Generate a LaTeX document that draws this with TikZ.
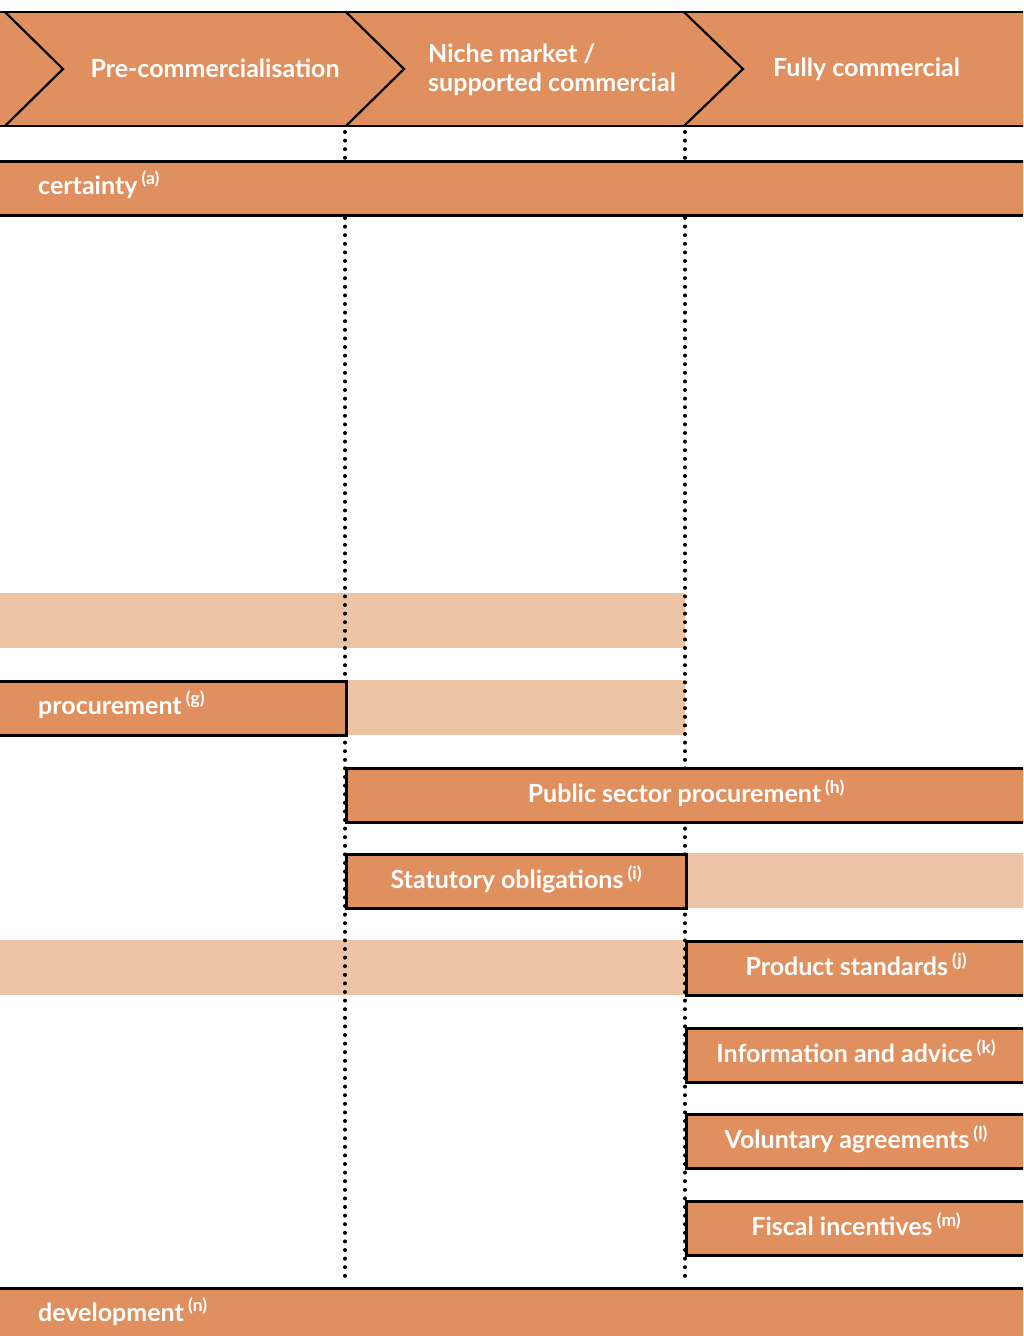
\documentclass[tikz,border=0pt]{standalone}
\usepackage{fontspec}
\setmainfont{Lato}
\usetikzlibrary{positioning}

\definecolor{barorange}{RGB}{224,143,94}
\definecolor{barpale}{RGB}{237,196,166}
\newcommand{\refmark}[1]{\,\textsuperscript{(#1)}}

\tikzset{
  darkbar/.style={fill=barorange, draw=black, line width=2.6pt, inner sep=0pt,
    minimum height=54pt, anchor=north west, text=white, text height=19pt, text depth=5pt,
    font=\bfseries\fontsize{25}{30}\selectfont},
  palebar/.style={fill=barpale, inner sep=0pt, minimum height=55pt, anchor=north west},
  bartext/.style={text=white, inner sep=0pt, font=\bfseries\fontsize{25}{30}\selectfont},
  headtext/.style={text=white, inner sep=0pt, font=\bfseries\fontsize{25}{29}\selectfont},
  chevron/.style={draw=black, line width=2.2pt, line join=miter},
  guide/.style={line width=4pt, line cap=round, dash pattern=on 0pt off 8.6pt},
}

\begin{document}
\begin{tikzpicture}[x=1pt,y=-1pt]
  \useasboundingbox (0,0) rectangle (1023,1336);
  \clip (0,0) rectangle (1023,1336);

  % stages along the top
  \fill[barorange] (-10,12) rectangle (1033,126);
  \draw[chevron] (-10,12) -- (1033,12);
  \draw[chevron] (-10,126) -- (1033,126);
  \draw[chevron] (5,12) -- (63,69) -- (5,126);
  \draw[chevron] (346,12) -- (404,69) -- (346,126);
  \draw[chevron] (684,12) -- (743,69) -- (684,126);
  \node[headtext] (stagepre) at (215,68) {Pre-commercialisation};
  \node[headtext, align=left, anchor=west] (stageniche) at (428,70)
    {Niche market /\\supported commercial};
  \node[headtext, anchor=west] (stagefull) at (773,69) {Fully commercial};

  % pale bars
  \node[palebar, minimum width=690] (palea) at (-5,593) {};
  \node[palebar, minimum width=340] (paleb) at (345,680) {};
  \node[palebar, minimum width=345] (palec) at (685,853) {};
  \node[palebar, minimum width=690] (paled) at (-5,940) {};

  % stage boundaries
  \coordinate (guidea top) at (345,132);
  \coordinate (guidea bot) at (345,1278);
  \coordinate (guideb top) at (685,132);
  \coordinate (guideb bot) at (685,1278);
  \draw[guide] (guidea top) -- (guidea bot);
  \draw[guide] (guideb top) -- (guideb bot);

  % policy bars
  \node[darkbar, minimum width=1045] (certbar) at (-10,160) {};
  \node[bartext, anchor=base west] (certlbl) at (38,194) {certainty\refmark{a}};
  \node[darkbar, minimum width=355] (procbar) at (-10,680) {};
  \node[bartext, anchor=base west] (proclbl) at (38,714) {procurement\refmark{g}};
  \node[darkbar, minimum width=680] (pubbar) at (345,767) {Public sector procurement\refmark{h}};
  \node[darkbar, minimum width=340] (statbar) at (345,853) {Statutory obligations\refmark{i}};
  \node[darkbar, minimum width=340] (prodbar) at (685,940) {Product standards\refmark{j}};
  \node[darkbar, minimum width=340] (infobar) at (685,1027) {Information and advice\refmark{k}};
  \node[darkbar, minimum width=340] (volbar) at (685,1113) {Voluntary agreements\refmark{l}};
  \node[darkbar, minimum width=340] (fiscbar) at (685,1200) {Fiscal incentives\refmark{m}};
  \node[darkbar, minimum width=1045, minimum height=80] (devbar) at (-10,1287) {};
  \node[bartext, anchor=base west] (devlbl) at (38,1321) {development\refmark{n}};
\end{tikzpicture}
\end{document}
